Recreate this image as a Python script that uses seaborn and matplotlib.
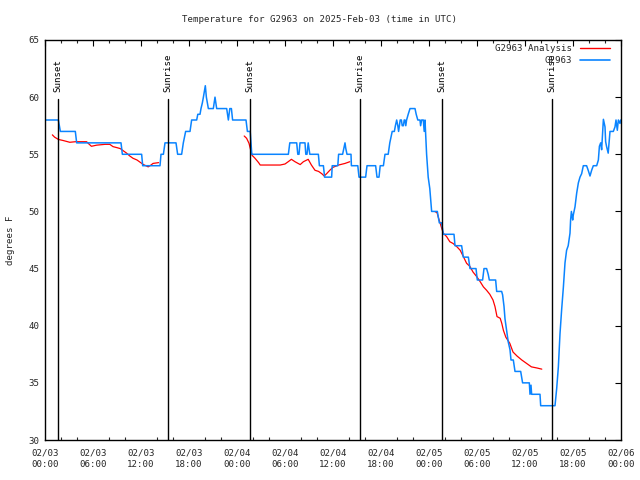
import matplotlib
matplotlib.use("Agg")
import matplotlib.pyplot as plt
import matplotlib.transforms as mtransforms
from matplotlib.lines import Line2D
from matplotlib.ticker import MultipleLocator
import numpy as np
import pandas as pd
import seaborn as sns

# ---------------- data (hours since 2025-02-03 00:00 UTC) ----------------
obs_hours = [0, 1.67, 1.92, 3.79, 3.96, 9.5, 9.67, 12.08, 12.21, 14.375, 14.5, 14.8, 15.0,
             16.375, 16.58, 17.08, 17.29, 17.58, 18.125, 18.33, 18.96, 19.1, 19.375, 19.5,
             19.67, 19.8, 20.04, 20.17, 20.3, 20.42, 21.04, 21.15, 21.25, 21.35, 21.46,
             22.71, 22.92, 23.1, 23.3, 23.45, 25.125, 25.3, 25.65, 25.75, 25.85,
             30.42, 30.6, 31.46, 31.6, 31.75, 31.875, 32.5, 32.6, 32.75, 32.9, 33.0, 33.1,
             34.17, 34.3, 34.8, 34.95, 35.83, 35.9, 36.6, 36.7, 37.2, 37.35, 37.5, 37.6,
             37.75, 38.25, 38.3, 39.1, 39.25, 40.08, 40.25, 41.33, 41.5, 41.75, 41.9, 42.3,
             42.4, 42.5, 42.9, 43.0, 43.1, 43.25, 43.4, 43.67, 43.8, 43.96, 44.1, 44.2,
             44.3, 44.4, 44.55, 44.65, 44.8, 44.9, 45.0, 45.1, 45.2, 45.4, 45.625, 46.25,
             46.4, 46.6, 46.875, 46.95, 47.08, 47.29, 47.4, 47.5, 47.6, 47.7, 47.9, 48.1,
             48.33, 49.04, 49.17, 49.29, 49.58, 49.79, 51.125, 51.25, 52.08, 52.29, 52.92,
             53.125, 53.875, 54.04, 54.7, 54.875, 55.2, 55.4, 55.54, 56.33, 56.46, 57.08,
             57.2, 57.375, 57.5, 57.7, 57.9, 58.125, 58.25, 58.54, 58.75, 59.46, 59.7,
             60.54, 60.625, 60.75, 60.83, 61.875, 61.96, 63.75, 63.96, 64.17, 64.375,
             64.58, 64.8, 65.0, 65.2, 65.4, 65.625, 65.7, 65.8, 65.96, 66.04, 66.25, 66.46,
             66.67, 66.875, 67.08, 67.29, 67.7, 67.9, 68.125, 68.33, 68.54, 68.96, 69.17,
             69.3, 69.46, 69.58, 69.7, 69.8, 70.0, 70.08, 70.2, 70.4, 70.625, 71.04, 71.25,
             71.375, 71.54, 71.67, 71.875, 71.96]
obs_temps = [58, 58, 57, 57, 56, 56, 55, 55, 54, 54, 55, 55, 56,
             56, 55, 55, 56, 57, 57, 58, 58, 58.5, 58.5, 59,
             59.5, 60, 61, 60, 59.5, 59, 59, 59.5, 60, 59.5, 59,
             59, 58, 59, 59, 58, 58, 57, 57, 56, 55,
             55, 56, 56, 55, 55, 56, 56, 55, 55, 56, 55.5, 55,
             55, 54, 54, 53, 53, 54, 54, 55, 55, 55.5, 56, 55.5,
             55, 55, 54, 54, 53, 53, 54, 54, 53, 53, 54, 54,
             54.5, 55, 55, 55.5, 56, 56.5, 57, 57, 57.5, 58, 57.5, 57,
             57.5, 58, 58, 57.5, 57.5, 58, 58, 57.5, 58, 58.5, 59, 59,
             58.5, 58, 58, 57.5, 58, 58, 57, 58, 56.5, 55, 53, 52,
             50, 50, 49.5, 49, 49, 48, 48, 47, 47, 46, 46,
             45, 45, 44, 44, 45, 45, 44.5, 44, 44, 43, 43,
             42.7, 41.7, 40.6, 39.6, 38.6, 37.9, 37, 37, 36, 36, 35,
             35, 34, 34.8, 34, 34, 33, 33, 34.5, 36.4, 39.3,
             41.4, 43.4, 45.5, 46.6, 47, 48.1, 49.25, 50, 49.25, 49.7, 50.4, 51.6,
             52.5, 53, 53.3, 54, 54, 53.6, 53.1, 53.6, 54, 54, 54.5,
             55.7, 56, 55.4, 56.8, 58.06, 57.4, 56.1, 55.67, 55.1, 57, 57, 57.4,
             58, 57.1, 58, 57.7, 58]

ana1_hours = [0.92, 1.2, 1.67, 2.3, 3.1, 3.8, 5.2, 5.4, 5.8, 6.46, 7.5, 8.1, 8.5, 9.0, 9.4,
              9.8, 10.2, 10.6, 11.0, 11.5, 11.9, 12.3, 12.7, 12.9, 13.25, 13.5, 14.2]
ana1_temps = [56.7, 56.5, 56.3, 56.2, 56.05, 56.1, 56.1, 55.96, 55.7, 55.8, 55.87, 55.87,
              55.67, 55.58, 55.5, 55.3, 55.1, 54.85, 54.65, 54.5, 54.3, 54.1, 53.97, 53.9,
              54.06, 54.2, 54.27]
ana2_hours = [24.9, 25.2, 25.5, 25.7, 25.9, 26.25, 26.7, 26.9, 29.4, 30.0, 30.4, 30.8, 31.25,
              31.9, 32.3, 32.9, 33.3, 33.75, 34.2, 34.6, 34.9, 35.2, 35.6, 36.0, 36.7, 37.5, 38.1]
ana2_temps = [56.6, 56.4, 55.96, 55.4, 54.9, 54.65, 54.27, 54.06, 54.06, 54.15, 54.35, 54.56,
              54.35, 54.1, 54.35, 54.56, 54.06, 53.6, 53.5, 53.3, 53.1, 53.3, 53.6, 53.86,
              54.06, 54.2, 54.35]
ana3_hours = [48.75, 49.0, 49.2, 49.4, 49.6, 49.8, 50.2, 50.6, 51.0, 51.5, 51.9, 52.3, 52.7,
              53.1, 53.5, 53.96, 54.4, 54.8, 55.2, 55.6, 56.0, 56.25, 56.5, 56.9, 57.1, 57.3,
              57.6, 58.1, 58.5, 59.0, 59.6, 60.2, 60.8, 61.5, 62.1]
ana3_temps = [49.98, 49.9, 49.4, 48.96, 48.5, 48.08, 47.8, 47.35, 47.2, 46.9, 46.6, 46.04,
              45.46, 45.2, 44.7, 44.3, 43.85, 43.4, 43.1, 42.75, 42.25, 41.67, 40.8, 40.65,
              40.2, 39.6, 39.0, 38.46, 37.7, 37.35, 37.0, 36.7, 36.4, 36.3, 36.2]

sun_hours = [1.66, 15.375, 25.66, 39.41, 49.66, 63.34]
sun_labels = ["Sunset", "Sunrise", "Sunset", "Sunrise", "Sunset", "Sunrise"]

xtick_hours = [0, 6, 12, 18, 24, 30, 36, 42, 48, 54, 60, 66, 72]
xtick_labels = ["02/03\n00:00", "02/03\n06:00", "02/03\n12:00", "02/03\n18:00",
                "02/04\n00:00", "02/04\n06:00", "02/04\n12:00", "02/04\n18:00",
                "02/05\n00:00", "02/05\n06:00", "02/05\n12:00", "02/05\n18:00",
                "02/06\n00:00"]
ytick_vals = [30, 35, 40, 45, 50, 55, 60, 65]

title = "Temperature for G2963 on 2025-Feb-03 (time in UTC)"
ylabel = "degrees F"
series_labels = ["G2963 Analysis", "G2963"]

# ---------------- styling ----------------
sns.set_style("white")
plt.rcParams["font.family"] = ["DejaVu Sans Mono"]
FS = 6.6
RED = "#ff0000"
BLUE = "#0a84ff"

obs_df = pd.DataFrame({"h": obs_hours, "t": obs_temps})
ana_df = pd.DataFrame({
    "h": ana1_hours + ana2_hours + ana3_hours,
    "t": ana1_temps + ana2_temps + ana3_temps,
    "seg": [1] * len(ana1_hours) + [2] * len(ana2_hours) + [3] * len(ana3_hours),
})

fig = plt.figure(figsize=(6.4, 4.8), dpi=100)
ax = fig.add_axes([45 / 640, 40 / 480, 576 / 640, 400 / 480])

sns.lineplot(data=ana_df, x="h", y="t", units="seg", estimator=None, sort=False,
             color=RED, linewidth=0.9, ax=ax, legend=False)
sns.lineplot(data=obs_df, x="h", y="t", estimator=None, sort=False,
             color=BLUE, linewidth=1.1, ax=ax, legend=False)

ax.set_xlim(0, 72)
ax.set_ylim(30, 65)

trans = mtransforms.blended_transform_factory(ax.transData, ax.transAxes)
for h, lab in zip(sun_hours, sun_labels):
    ax.axvline(h, ymin=0, ymax=0.8525, color="black", linewidth=1.0, zorder=3)
    ax.text(h, 0.87, lab, transform=trans, rotation=90, ha="center", va="bottom",
            fontsize=FS, color="black")

ax.set_xticks(xtick_hours)
ax.set_xticklabels(xtick_labels, fontsize=FS, linespacing=1.35)
ax.xaxis.set_minor_locator(MultipleLocator(2))
ax.set_yticks(ytick_vals)
ax.set_yticklabels([str(v) for v in ytick_vals], fontsize=FS)
ax.tick_params(axis="both", which="major", direction="in", length=4.5, width=0.8,
               top=True, right=True, color="black", pad=6)
ax.tick_params(axis="y", which="major", length=4, pad=4)
ax.tick_params(axis="x", which="minor", direction="in", length=2.5, width=0.8,
               top=True, bottom=True)

for s in ax.spines.values():
    s.set_color("black")
    s.set_linewidth(1.0)

ax.set_xlabel("")
ax.set_ylabel(ylabel, fontsize=FS, labelpad=10)
fig.text(0.5, 1 - 19 / 480, title, ha="center", va="center", fontsize=FS)

handles = [Line2D([], [], color=RED, linewidth=1.0), Line2D([], [], color=BLUE, linewidth=1.2)]
ax.legend(handles, series_labels, loc="upper right", bbox_to_anchor=(0.981, 0.99),
          frameon=False, markerfirst=False, fontsize=FS, handlelength=3.3,
          handletextpad=0.8, labelspacing=0.35, borderpad=0, borderaxespad=0)

fig.savefig("out.png", dpi=100)
